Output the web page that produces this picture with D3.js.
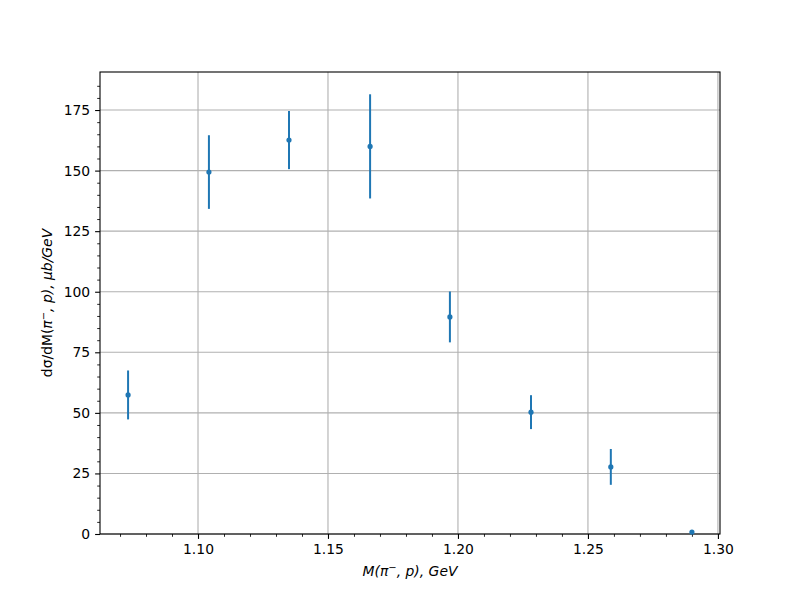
<!DOCTYPE html>
<html><head><meta charset="utf-8">
<script src="https://cdn.jsdelivr.net/npm/d3@7"></script>
<style>body{margin:0;background:#fff}text{font-family:"DejaVu Sans",sans-serif}</style>
</head><body>
<svg id="c" width="800" height="600"></svg>
<script>
const xVals = [1.0731, 1.1042, 1.1350, 1.1662, 1.1969, 1.2281, 1.2588, 1.2900];
const yVals = [57.4, 149.4, 162.6, 160.0, 89.6, 50.3, 27.7, 0.8];
const yErr  = [10.1, 15.2, 12.0, 21.5, 10.5, 7.0, 7.4, 0.5];
const xTicks = [1.10, 1.15, 1.20, 1.25, 1.30];
const yTicks = [0, 25, 50, 75, 100, 125, 150, 175];

const svg = d3.select("#c");
const L = 100, R = 720, T = 72, B = 534;
const x = d3.scaleLinear().domain([1.0623, 1.3008]).range([L, R]);
const y = d3.scaleLinear().domain([0, 190.7]).range([B, T]);
const col = "#1f77b4";
const fs = 13.9;

// grid
const g = svg.append("g");
g.selectAll(".gx").data(xTicks).join("line")
  .attr("x1", d => x(d)).attr("x2", d => x(d)).attr("y1", T).attr("y2", B)
  .attr("stroke", "#b0b0b0").attr("stroke-width", 1.1);
g.selectAll(".gy").data(yTicks).join("line")
  .attr("y1", d => y(d)).attr("y2", d => y(d)).attr("x1", L).attr("x2", R)
  .attr("stroke", "#b0b0b0").attr("stroke-width", 1.1);

// axes
const xAxis = d3.axisBottom(x).tickValues(xTicks).tickFormat(d3.format(".2f")).tickSize(4.9).tickPadding(4.9);
const yAxis = d3.axisLeft(y).tickValues(yTicks).tickFormat(d3.format("d")).tickSize(4.9).tickPadding(4.9);
const xMinor = d3.range(1.07, 1.30, 0.01).filter(v => Math.abs(Math.round(v*100) % 5) !== 0);
const yMinor = d3.range(5, 190, 5).filter(v => v % 25 !== 0);
svg.append("g").attr("transform", `translate(0,${B})`)
  .call(d3.axisBottom(x).tickValues(xMinor).tickSize(2.8).tickFormat(""))
  .call(a => a.select(".domain").remove()).call(a => a.selectAll("line").attr("stroke-width", 0.85));
svg.append("g").attr("transform", `translate(${L},0)`)
  .call(d3.axisLeft(y).tickValues(yMinor).tickSize(2.8).tickFormat(""))
  .call(a => a.select(".domain").remove()).call(a => a.selectAll("line").attr("stroke-width", 0.85));
const xa = svg.append("g").attr("transform", `translate(0,${B})`).call(xAxis);
const ya = svg.append("g").attr("transform", `translate(${L},0)`).call(yAxis);
[xa, ya].forEach(a => {
  a.select(".domain").remove();
  a.selectAll("line").attr("stroke-width", 1.1);
  a.selectAll("text").attr("font-size", fs).attr("fill", "#000").attr("font-family", "DejaVu Sans");
});

// frame
svg.append("rect").attr("x", L).attr("y", T).attr("width", R-L).attr("height", B-T)
  .attr("fill", "none").attr("stroke", "#000").attr("stroke-width", 1.1);

// error bars
const pts = xVals.map((v, i) => ({x: v, y: yVals[i], e: yErr[i]}));
svg.append("g").selectAll("line").data(pts).join("line")
  .attr("x1", d => x(d.x)).attr("x2", d => x(d.x))
  .attr("y1", d => y(d.y - d.e)).attr("y2", d => y(d.y + d.e))
  .attr("stroke", col).attr("stroke-width", 2);
svg.append("g").selectAll("circle").data(pts).join("circle")
  .attr("cx", d => x(d.x)).attr("cy", d => y(d.y)).attr("r", 2.6).attr("fill", col);

// labels
svg.append("text").attr("x", (L+R)/2).attr("y", 576).attr("text-anchor", "middle")
  .attr("font-size", fs).attr("font-style", "italic")
  .html('M(π<tspan dy="-5" font-size="10" font-style="normal">\u2212</tspan><tspan dy="5">, p), GeV</tspan>');
svg.append("text").attr("transform", `translate(52,${(T+B)/2}) rotate(-90)`).attr("text-anchor", "middle")
  .attr("font-size", fs)
  .html('dσ/dM(<tspan font-style="italic">π</tspan><tspan dy="-5" font-size="10">\u2212</tspan><tspan dy="5" font-style="italic">, p), μb/GeV</tspan>');
</script>
</body></html>
